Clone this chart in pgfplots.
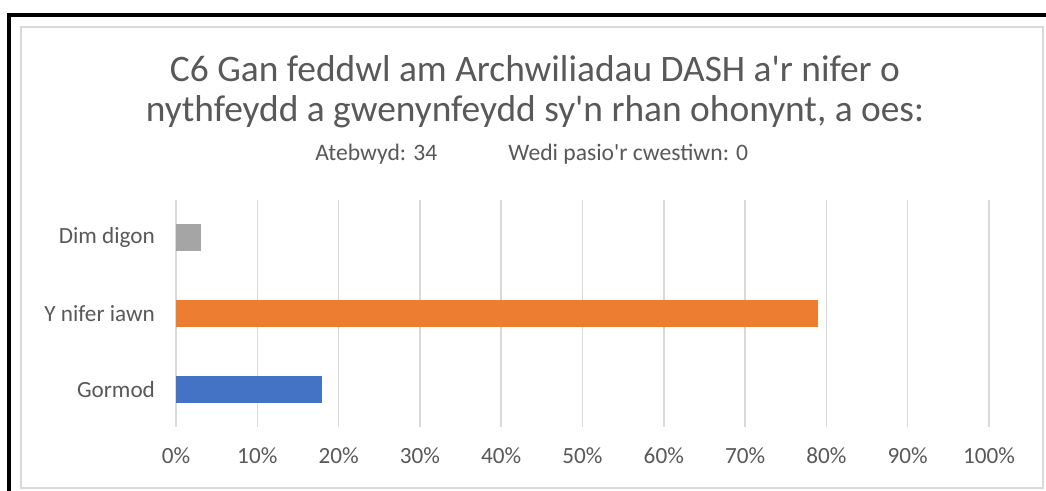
\documentclass[border=0pt]{standalone}
\usepackage{pgfplots}
\pgfplotsset{compat=1.18}
\usepackage{fontspec}
\setmainfont{Carlito}
\definecolor{txt}{HTML}{595959}
\definecolor{gridc}{HTML}{D9D9D9}
\definecolor{cgrey}{HTML}{A5A5A5}
\definecolor{corange}{HTML}{ED7D31}
\definecolor{cblue}{HTML}{4472C4}
\begin{document}
\begin{tikzpicture}[x=0.5pt,y=-0.5pt]
\useasboundingbox (0,0) rectangle (1046,491);
\fill[white] (0,0) rectangle (1046,491);
\draw[gridc,line width=1pt] (21,27) rectangle (1043,488);
\draw[black,line width=1.7pt] (9,491) -- (9,15) -- (1046,15);
\node[txt,anchor=base,font=\fontsize{18.7}{22}\selectfont] at (535,82) {C6 Gan feddwl am Archwiliadau DASH a\textquotesingle r nifer o};
\node[txt,anchor=base,font=\fontsize{18.7}{22}\selectfont] at (535,122) {nythfeydd a gwenynfeydd sy\textquotesingle n rhan ohonynt, a oes:};
\node[txt,anchor=base west,font=\fontsize{11.8}{14}\selectfont,inner sep=0pt] at (315,161) {Atebwyd: 34};
\node[txt,anchor=base west,font=\fontsize{11.8}{14}\selectfont,inner sep=0pt] at (508,161) {Wedi pasio\textquotesingle r cwestiwn: 0};
\begin{axis}[
  at={(88pt,-213.5pt)}, anchor=south west,
  scale only axis, width=406.5pt, height=113.5pt,
  xbar, bar width=13.5pt, bar shift=0pt,
  xmin=0, xmax=100, ymin=0.5, ymax=3.5,
  xtick={0,10,...,100},
  xticklabel={\pgfmathprintnumber{\tick}\%},
  ytick={1,2,3},
  yticklabels={Gormod,Y nifer iawn,Dim digon},
  axis line style={draw=none},
  major tick length=0pt,
  xmajorgrids, ymajorgrids=false,
  major grid style={draw=gridc,line width=0.75pt},
  ticklabel style={txt,font=\fontsize{11.6}{14}\selectfont},
  /pgf/number format/assume math mode=true,
  yticklabel style={xshift=-7pt},
  xticklabel style={yshift=-7pt},
]
\addplot[draw=none,fill=cblue] coordinates {(18.0,1)};
\addplot[draw=none,fill=corange] coordinates {(79.0,2)};
\addplot[draw=none,fill=cgrey] coordinates {(3.1,3)};
\end{axis}
\end{tikzpicture}
\end{document}
